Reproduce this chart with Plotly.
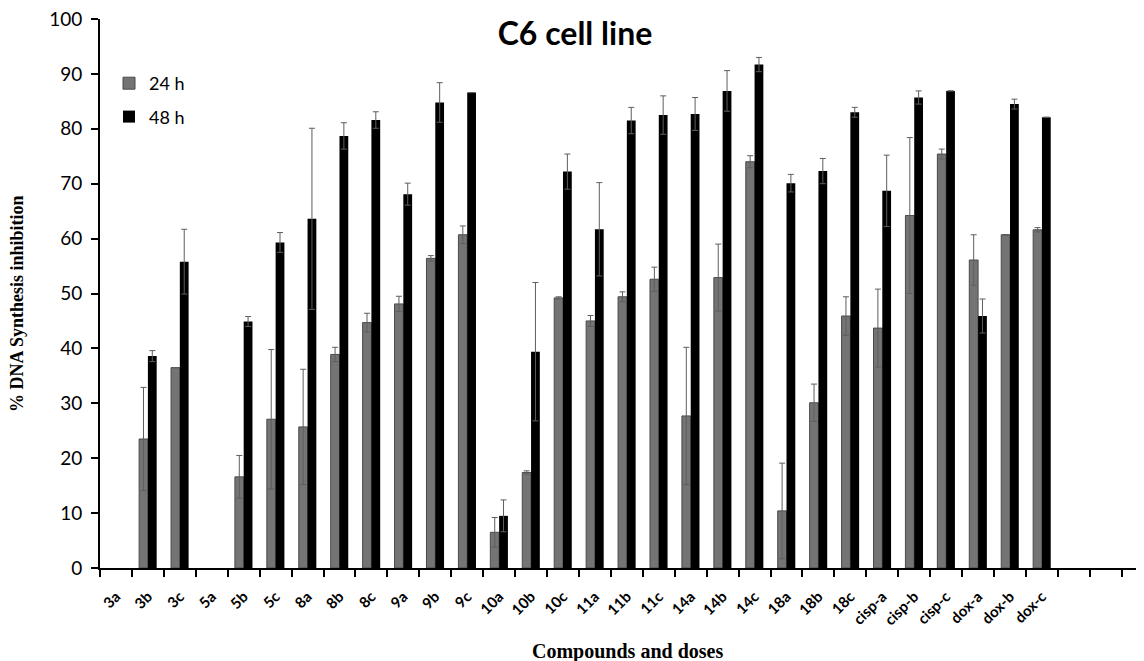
import plotly.graph_objects as go

categories = ["3a", "3b", "3c", "5a", "5b", "5c", "8a", "8b", "8c", "9a", "9b", "9c",
              "10a", "10b", "10c", "11a", "11b", "11c", "14a", "14b", "14c",
              "18a", "18b", "18c", "cisp-a", "cisp-b", "cisp-c", "dox-a", "dox-b", "dox-c"]
extra_slots = [" ", "  ", "   "]

h24 = [None, 23.5, 36.5, None, 16.6, 27.1, 25.7, 38.9, 44.7, 48.1, 56.4, 60.7,
       6.5, 17.4, 49.2, 45.0, 49.4, 52.6, 27.7, 52.9, 74.0,
       10.4, 30.1, 45.9, 43.7, 64.2, 75.4, 56.1, 60.7, 61.6]
h24_err = [0, 9.4, 0, 0, 3.9, 12.7, 10.5, 1.3, 1.7, 1.4, 0.5, 1.6,
           2.7, 0.3, 0.2, 1.0, 0.9, 2.2, 12.5, 6.1, 1.1,
           8.7, 3.4, 3.5, 7.1, 14.2, 0.9, 4.6, 0, 0.4]
h48 = [None, 38.6, 55.8, None, 44.9, 59.3, 63.6, 78.7, 81.6, 68.1, 84.8, 86.6,
       9.5, 39.4, 72.2, 61.7, 81.5, 82.5, 82.7, 86.9, 91.7,
       70.1, 72.3, 83.0, 68.7, 85.7, 86.9, 45.9, 84.5, 82.1]
h48_err = [0, 1.0, 5.9, 0, 0.9, 1.8, 16.5, 2.4, 1.5, 2.0, 3.6, 0,
           2.9, 12.6, 3.2, 8.5, 2.4, 3.5, 3.0, 3.7, 1.3,
           1.6, 2.3, 0.9, 6.5, 1.2, 0, 3.1, 0.9, 0]

x_all = categories + extra_slots
pad = [None] * len(extra_slots)
pad0 = [0] * len(extra_slots)

# page body has an 8px margin; margins below compensate so the plot area
# sits at x 100..(right edge), y 19..568 in the screenshot
W, H = 1144, 661
ML, MT, MB, MR = 92, 11, 101, 0
PW = W - ML - MR
PH = H - MT - MB
X_MAX = -0.5 + PW / 31.93

fig = go.Figure()
fig.add_trace(go.Bar(
    name="24 h", x=x_all, y=h24 + pad, legendgroup="a",
    marker=dict(color="#747474", line=dict(color="#4a4a4a", width=1)),
    error_y=dict(type="data", array=h24_err + pad0, visible=True,
                 color="#5e5e5e", thickness=1, width=3),
))
fig.add_trace(go.Bar(
    name="48 h", x=x_all, y=h48 + pad, legendgroup="b",
    marker=dict(color="#000000", line=dict(color="#000000", width=0)),
    error_y=dict(type="data", array=h48_err + pad0, visible=True,
                 color="#5e5e5e", thickness=1, width=3),
))

fig.update_layout(
    width=W, height=H,
    margin=dict(l=ML, r=MR, t=MT, b=MB, autoexpand=False),
    paper_bgcolor="white", plot_bgcolor="white",
    barmode="group", bargap=0.45, bargroupgap=0.0,
    font=dict(family="Lato", color="#000000"),
    title=dict(text="<b>C6 cell line</b>", x=(575 - 8) / W, xanchor="center",
               y=1 - (34 - 8) / H, yanchor="middle",
               font=dict(family="Lato", size=32, color="#000000")),
    legend=dict(x=(109 - 100) / PW, y=(568 - 65) / PH, xanchor="left", yanchor="top",
                bgcolor="rgba(0,0,0,0)", font=dict(family="Lato", size=18),
                traceorder="grouped", tracegroupgap=7, itemwidth=30),
    showlegend=True,
    xaxis=dict(
        type="category", categoryorder="array", categoryarray=x_all,
        range=[-0.5, X_MAX], showline=True, linecolor="#000000", linewidth=2,
        ticks="outside", tickson="boundaries", ticklen=7, tickwidth=2,
        tickcolor="#000000", tickangle=-45, ticklabelstandoff=12,
        tickfont=dict(family="Lato", size=15, weight="bold"),
        showgrid=False, zeroline=False,
    ),
    yaxis=dict(
        range=[0, 100], dtick=10, showline=True, linecolor="#000000", linewidth=2,
        ticks="outside", ticklen=7, tickwidth=2, tickcolor="#000000",
        tickfont=dict(family="Lato", size=19), ticklabeloverflow="allow",
        ticklabelstandoff=5,
        showgrid=False, zeroline=False,
    ),
)

fig.add_annotation(text="<b>% DNA Synthesis inhibition</b>", xref="paper", yref="paper",
                   x=(17 - 100) / PW, y=(568 - 304) / PH, xanchor="center", yanchor="middle",
                   textangle=-90, showarrow=False,
                   font=dict(family="Liberation Serif", size=18))
fig.add_annotation(text="<b>Compounds and doses</b>", xref="paper", yref="paper",
                   x=(627 - 100) / PW, y=-(651 - 568) / PH, xanchor="center", yanchor="middle",
                   showarrow=False, font=dict(family="Liberation Serif", size=20))

fig.write_html("out.html")
